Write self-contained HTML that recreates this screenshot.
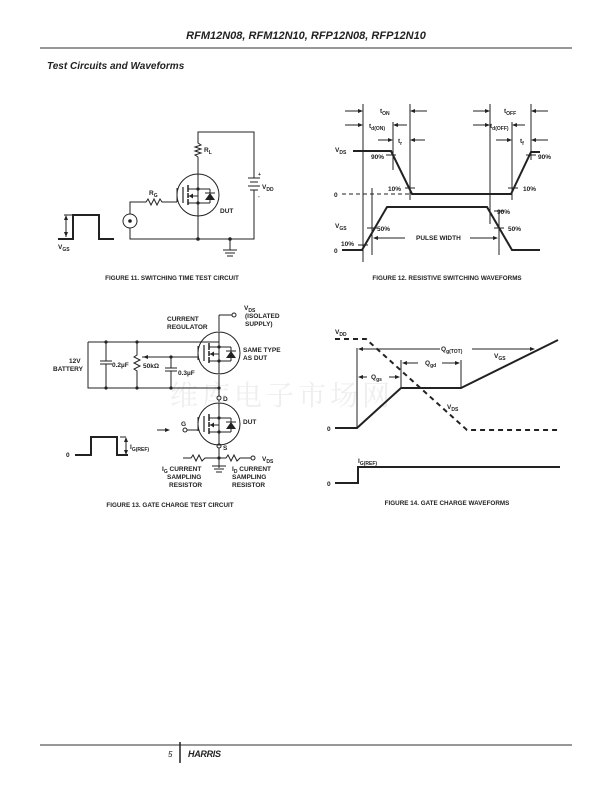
<!DOCTYPE html>
<html><head><meta charset="utf-8"><style>
html,body{margin:0;padding:0;background:#fff}
svg{display:block}
text{font-family:"Liberation Sans",Arial,sans-serif;font-weight:bold;fill:#222}
</style></head><body>
<svg width="612" height="792" viewBox="0 0 612 792" xmlns="http://www.w3.org/2000/svg">
<defs>
<g id="fet">
<circle cx="0" cy="0" r="21" fill="none" stroke="#222" stroke-width="1"/>
<line x1="-21" y1="7" x2="-21" y2="-7" stroke="#222"/>
<line x1="-15" y1="-8" x2="-15" y2="8" stroke="#222" stroke-width="1.2"/>
<line x1="-10" y1="-10" x2="-10" y2="-3" stroke="#222" stroke-width="1.5"/>
<line x1="-10" y1="-2" x2="-10" y2="3" stroke="#222" stroke-width="1.5"/>
<line x1="-10" y1="4" x2="-10" y2="10" stroke="#222" stroke-width="1.5"/>
<line x1="-10" y1="-6" x2="12" y2="-6" stroke="#222"/>
<line x1="-10" y1="8" x2="12" y2="8" stroke="#222"/>
<line x1="-10" y1="1" x2="0" y2="1" stroke="#222"/>
<polygon points="-9,1 -5,-1.5 -5,3.5" fill="#222"/>
<line x1="0" y1="1" x2="0" y2="8" stroke="#222"/>
<line x1="0" y1="-21" x2="0" y2="21" stroke="#222"/>
<circle cx="0" cy="-6" r="1.6" fill="#222"/><circle cx="0" cy="8" r="1.6" fill="#222"/>
<line x1="12" y1="-6" x2="12" y2="8" stroke="#222"/>
<polygon points="7,5 17,5 12,-2" fill="#222"/>
<line x1="7" y1="-2" x2="17" y2="-2" stroke="#222"/>
</g>
</defs>

<!-- header -->
<text x="306" y="39" font-size="11" font-style="italic" text-anchor="middle">RFM12N08, RFM12N10, RFP12N08, RFP12N10</text>
<line x1="40" y1="48" x2="572" y2="48" stroke="#777" stroke-width="1.5"/>
<text x="47" y="69" font-size="10" font-style="italic">Test Circuits and Waveforms</text>

<!-- watermark -->
<text x="170" y="405" font-size="28" style="font-family:'Noto Serif CJK SC',serif;font-weight:normal;fill:#eeeeee" letter-spacing="4">维库电子市场网</text>

<g stroke="#222" fill="none" stroke-width="1">
<!-- FIGURE 11 -->
<polyline points="198,174 198,157"/>
<polyline points="198,157 195,155 201,153 195,151 201,149 195,147 201,145 198,143 198,132 254,132 254,178"/>
<line x1="248" y1="178" x2="260" y2="178"/><line x1="250" y1="182" x2="258" y2="182"/>
<line x1="248" y1="186" x2="260" y2="186"/><line x1="250" y1="190" x2="258" y2="190"/>
<polyline points="254,190 254,239 130,239 130,228"/>
<line x1="198" y1="216" x2="198" y2="239"/>
<line x1="230" y1="239" x2="230" y2="250"/>
<line x1="223" y1="250" x2="237" y2="250"/><line x1="225" y1="253" x2="235" y2="253"/><line x1="227" y1="256" x2="233" y2="256"/>
<circle cx="130" cy="221" r="7"/>
<polyline points="130,214 130,202 146,202 148,199 151,205 154,199 157,205 160,199 162,202 177,202"/>
<polyline points="58,239 73,239 73,215 99,215 99,239 114,239" stroke-width="2"/>
<line x1="64" y1="215" x2="73" y2="215"/><line x1="66" y1="217" x2="66" y2="237"/>
<!-- FIGURE 12 -->
<line x1="363" y1="104" x2="363" y2="262"/>
<line x1="410" y1="104" x2="410" y2="200"/>
<line x1="490" y1="104" x2="490" y2="224"/>
<line x1="531" y1="104" x2="531" y2="160"/>
<line x1="393" y1="122" x2="393" y2="170"/>
<line x1="512" y1="122" x2="512" y2="200"/>
<line x1="372" y1="188" x2="372" y2="255"/>
<line x1="499" y1="212" x2="499" y2="255"/>
<polyline points="353,151 391,151 412,194 511,194 531,152 540,152" stroke-width="2"/>
<line x1="342" y1="194" x2="410" y2="194" stroke-dasharray="4,3"/>
<polyline points="342,250 362,250 387,207 487,207 512,250 540,250" stroke-width="2"/>
<line x1="386" y1="155" x2="396" y2="155"/><line x1="405" y1="188" x2="415" y2="188"/>
<line x1="508" y1="188" x2="518" y2="188"/><line x1="526" y1="155" x2="536" y2="155"/>
<line x1="358" y1="245" x2="368" y2="245"/><line x1="367" y1="228" x2="377" y2="228"/>
<line x1="494" y1="211" x2="504" y2="211"/><line x1="494" y1="228" x2="504" y2="228"/>
<!-- arrows fig12 -->
<line x1="345" y1="111" x2="360" y2="111"/><line x1="413" y1="111" x2="427" y2="111"/>
<line x1="345" y1="125" x2="360" y2="125"/><line x1="396" y1="125" x2="407" y2="125"/>
<line x1="378" y1="140" x2="390" y2="140"/><line x1="413" y1="140" x2="425" y2="140"/>
<line x1="473" y1="111" x2="487" y2="111"/><line x1="534" y1="111" x2="548" y2="111"/>
<line x1="473" y1="125" x2="487" y2="125"/><line x1="515" y1="125" x2="525" y2="125"/>
<line x1="496" y1="140" x2="509" y2="140"/><line x1="534" y1="140" x2="548" y2="140"/>
<line x1="376" y1="238" x2="405" y2="238"/><line x1="470" y1="238" x2="496" y2="238"/>
<!-- FIGURE 13 -->
<line x1="219" y1="315" x2="219" y2="331"/><line x1="219" y1="315" x2="232" y2="315"/>
<circle cx="234" cy="315" r="2"/>
<line x1="219" y1="375" x2="219" y2="396"/>
<line x1="219" y1="400" x2="219" y2="402"/>
<line x1="219" y1="448" x2="219" y2="468"/>
<circle cx="219" cy="398" r="2"/><circle cx="219" cy="446" r="2"/>
<polyline points="88,342 219,342" />
<line x1="88" y1="342" x2="88" y2="352"/>
<polyline points="88,342 88,388 219,388"/>
<line x1="106" y1="342" x2="106" y2="361"/><line x1="100" y1="361" x2="112" y2="361"/><line x1="100" y1="364" x2="112" y2="364"/><line x1="106" y1="364" x2="106" y2="388"/>
<polyline points="137,342 137,355 134,357 140,360 134,363 140,366 134,369 137,371 137,388"/>
<line x1="142" y1="357" x2="198" y2="357"/>
<line x1="171" y1="357" x2="171" y2="368"/><line x1="165" y1="368" x2="177" y2="368"/><line x1="165" y1="371" x2="177" y2="371"/><line x1="171" y1="371" x2="171" y2="388"/>
<line x1="187" y1="430" x2="198" y2="430"/><circle cx="185" cy="430" r="2"/>
<line x1="157" y1="430" x2="167" y2="430"/>
<polyline points="183,458 191,458 193,455 196,461 199,455 202,461 205,458 219,458 226,458 228,455 231,461 234,455 237,461 240,458 251,458"/>
<circle cx="253" cy="458" r="2"/>
<line x1="219" y1="458" x2="219" y2="466"/>
<line x1="212" y1="466" x2="226" y2="466"/><line x1="214" y1="469" x2="224" y2="469"/><line x1="216" y1="472" x2="222" y2="472"/>
<polyline points="75,455 91,455 91,437 117,437 117,455 128,455" stroke-width="2"/>
<line x1="120" y1="437" x2="126" y2="437"/><line x1="126" y1="439" x2="126" y2="453"/>
<!-- FIGURE 14 -->
<polyline points="335,339 366,339 467,430 560,430" stroke-dasharray="5,4" stroke-width="2"/>
<polyline points="335,428 357,428 401,388 461,388 558,340" stroke-width="2"/>
<line x1="357" y1="348" x2="357" y2="428"/>
<line x1="401" y1="360" x2="401" y2="388"/>
<line x1="461" y1="360" x2="461" y2="388"/>
<line x1="360" y1="349" x2="440" y2="349"/><line x1="472" y1="349" x2="533" y2="349"/>
<line x1="360" y1="377" x2="367" y2="377"/><line x1="389" y1="377" x2="398" y2="377"/>
<line x1="404" y1="363" x2="418" y2="363"/><line x1="442" y1="363" x2="458" y2="363"/>
<polyline points="335,483 358,483 358,467 560,467" stroke-width="2"/>
<!-- footer -->
<line x1="40" y1="745" x2="572" y2="745" stroke="#777" stroke-width="1.5"/>
<line x1="180" y1="742" x2="180" y2="763" stroke-width="1.5"/>
</g>
<use href="#fet" x="198" y="195"/>
<use href="#fet" x="219" y="353"/>
<use href="#fet" x="219" y="424"/>
<g fill="#222">
<circle cx="198" cy="239" r="1.8"/><circle cx="230" cy="239" r="1.8"/>
<circle cx="130" cy="221" r="1.8"/>
<circle cx="106" cy="342" r="1.6"/><circle cx="137" cy="342" r="1.6"/><circle cx="106" cy="388" r="1.6"/><circle cx="137" cy="388" r="1.6"/><circle cx="171" cy="388" r="1.6"/><circle cx="171" cy="357" r="1.6"/><circle cx="219" cy="388" r="1.6"/><circle cx="219" cy="458" r="1.6"/>
<polygon points="66,215 64,220 68,220"/><polygon points="66,237 64,232 68,232"/>
<polygon points="126,437 124,442 128,442"/><polygon points="126,455 124,450 128,450"/>
<polygon points="143,357 148,355 148,359"/>
<polygon points="170,430 165,428 165,432"/>
<polygon points="363,111 358,109 358,113"/><polygon points="410,111 415,109 415,113"/>
<polygon points="363,125 358,123 358,127"/><polygon points="393,125 398,123 398,127"/>
<polygon points="393,140 388,138 388,142"/><polygon points="410,140 415,138 415,142"/>
<polygon points="490,111 485,109 485,113"/><polygon points="531,111 536,109 536,113"/>
<polygon points="490,125 485,123 485,127"/><polygon points="512,125 517,123 517,127"/>
<polygon points="512,140 507,138 507,142"/><polygon points="531,140 536,138 536,142"/>
<polygon points="373,238 378,236 378,240"/><polygon points="498,238 493,236 493,240"/>
<polygon points="358,349 363,347 363,351"/><polygon points="535,349 530,347 530,351"/>
<polygon points="358,377 363,375 363,379"/><polygon points="400,377 395,375 395,379"/>
<polygon points="402,363 407,361 407,365"/><polygon points="460,363 455,361 455,365"/>
</g>
<g font-size="6.5">
<text x="204" y="152">R<tspan font-size="5" dy="2">L</tspan></text>
<text x="149" y="195">R<tspan font-size="5" dy="2">G</tspan></text>
<text x="220" y="213">DUT</text>
<text x="258" y="176" font-size="5">+</text><text x="258" y="198" font-size="5">-</text>
<text x="262" y="189">V<tspan font-size="5" dy="2">DD</tspan></text>
<text x="58" y="249">V<tspan font-size="5" dy="2">GS</tspan></text>
<text x="172" y="280" font-size="6.3" text-anchor="middle">FIGURE 11.  SWITCHING TIME TEST CIRCUIT</text>

<text x="380" y="113">t<tspan font-size="5" dy="2">ON</tspan></text>
<text x="369" y="128">t<tspan font-size="5" dy="2">d(ON)</tspan></text>
<text x="398" y="143">t<tspan font-size="5" dy="2">r</tspan></text>
<text x="504" y="113">t<tspan font-size="5" dy="2">OFF</tspan></text>
<text x="490" y="128">t<tspan font-size="5" dy="2">d(OFF)</tspan></text>
<text x="520" y="143">t<tspan font-size="5" dy="2">f</tspan></text>
<text x="335" y="152">V<tspan font-size="5" dy="2">DS</tspan></text>
<text x="371" y="159">90%</text><text x="538" y="159">90%</text>
<text x="388" y="191">10%</text><text x="523" y="191">10%</text>
<text x="334" y="197">0</text>
<text x="335" y="228">V<tspan font-size="5" dy="2">GS</tspan></text>
<text x="497" y="214">90%</text>
<text x="377" y="231">50%</text><text x="508" y="231">50%</text>
<text x="341" y="246">10%</text>
<text x="334" y="253">0</text>
<text x="416" y="240">PULSE WIDTH</text>
<text x="447" y="280" font-size="6.3" text-anchor="middle">FIGURE 12.  RESISTIVE SWITCHING WAVEFORMS</text>

<text x="244" y="310">V<tspan font-size="5" dy="2">DS</tspan></text>
<text x="245" y="318">(ISOLATED</text>
<text x="245" y="326">SUPPLY)</text>
<text x="167" y="321">CURRENT</text>
<text x="167" y="329">REGULATOR</text>
<text x="243" y="352">SAME TYPE</text>
<text x="243" y="360">AS DUT</text>
<text x="69" y="363">12V</text>
<text x="53" y="371">BATTERY</text>
<text x="112" y="367">0.2µF</text>
<text x="143" y="368">50kΩ</text>
<text x="178" y="375">0.3µF</text>
<text x="223" y="401">D</text>
<text x="243" y="424">DUT</text>
<text x="181" y="426">G</text>
<text x="223" y="450">S</text>
<text x="66" y="457">0</text>
<text x="130" y="449">I<tspan font-size="5" dy="2">G(REF)</tspan></text>
<text x="262" y="461">V<tspan font-size="5" dy="2">DS</tspan></text>
<text x="162" y="471">I<tspan font-size="5" dy="2">G</tspan><tspan dy="-2"> CURRENT</tspan></text>
<text x="167" y="479">SAMPLING</text>
<text x="169" y="487">RESISTOR</text>
<text x="232" y="471">I<tspan font-size="5" dy="2">D</tspan><tspan dy="-2"> CURRENT</tspan></text>
<text x="232" y="479">SAMPLING</text>
<text x="232" y="487">RESISTOR</text>
<text x="170" y="507" font-size="6.3" text-anchor="middle">FIGURE 13.  GATE CHARGE TEST CIRCUIT</text>

<text x="335" y="334">V<tspan font-size="5" dy="2">DD</tspan></text>
<text x="441" y="351">Q<tspan font-size="5" dy="2">g(TOT)</tspan></text>
<text x="494" y="358">V<tspan font-size="5" dy="2">GS</tspan></text>
<text x="371" y="379">Q<tspan font-size="5" dy="2">gs</tspan></text>
<text x="425" y="365">Q<tspan font-size="5" dy="2">gd</tspan></text>
<text x="447" y="409">V<tspan font-size="5" dy="2">DS</tspan></text>
<text x="327" y="431">0</text>
<text x="358" y="463">I<tspan font-size="5" dy="2">G(REF)</tspan></text>
<text x="327" y="486">0</text>
<text x="447" y="505" font-size="6.3" text-anchor="middle">FIGURE 14.  GATE CHARGE WAVEFORMS</text>
</g>
<text x="168" y="757" font-size="8" font-style="italic" style="font-weight:normal">5</text>
<text x="188" y="757" font-size="9" font-style="italic" font-weight="bold" letter-spacing="-0.3">HARRIS</text>
</svg>
</body></html>
